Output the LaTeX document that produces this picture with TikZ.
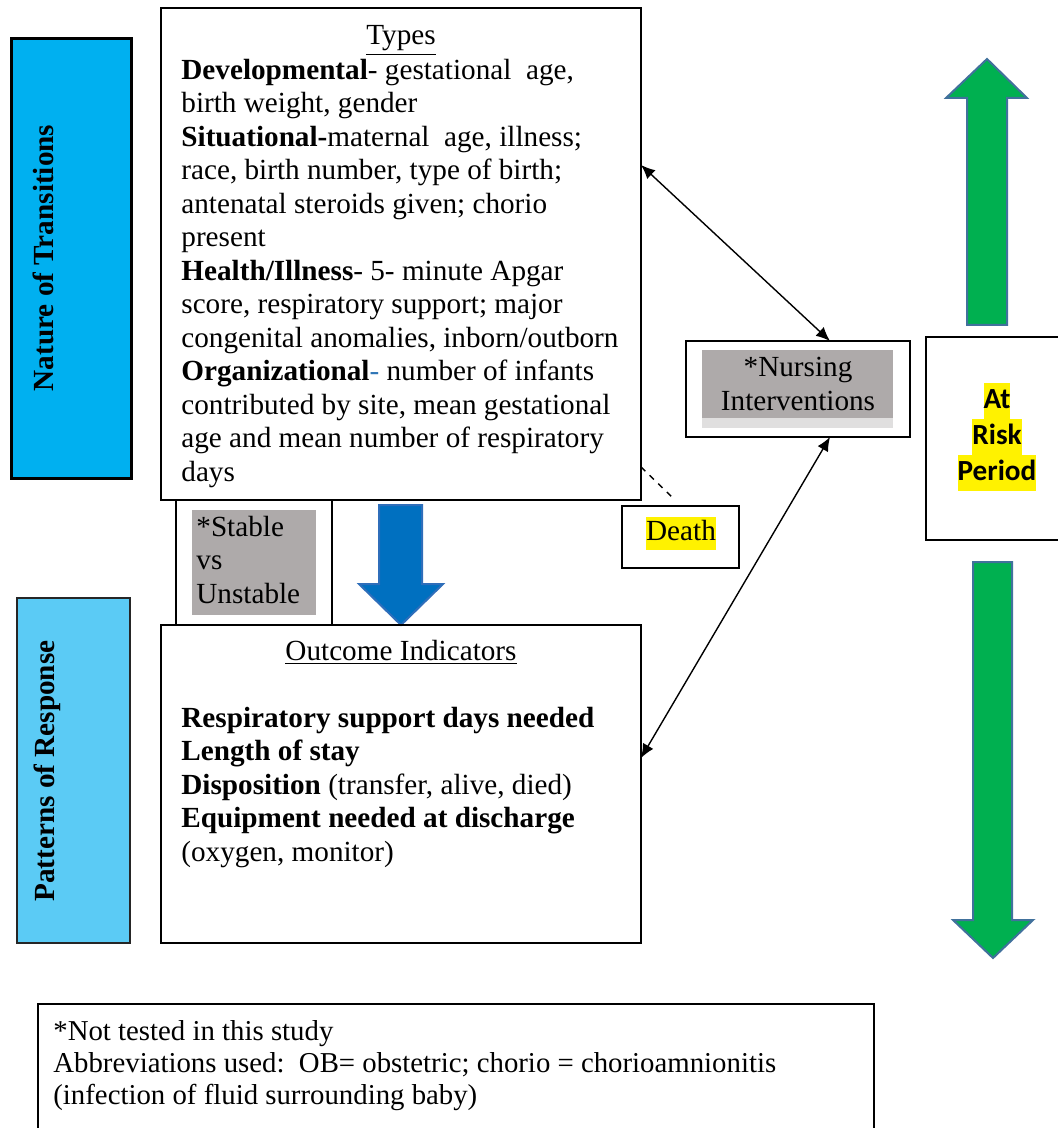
\documentclass[tikz,border=0pt]{standalone}
\usepackage{fontspec}
\setmainfont{Liberation Serif}
\newfontfamily\calibri{Carlito}
\usepackage{xcolor}
\usetikzlibrary{arrows.meta,calc}
\definecolor{natureblue}{HTML}{00B0F0}
\definecolor{patternblue}{HTML}{5BCBF5}
\definecolor{boxgray}{HTML}{AEAAAA}
\definecolor{stripgray}{HTML}{E0DFDF}
\definecolor{downblue}{HTML}{0070C0}
\definecolor{downedge}{HTML}{2F6EBA}
\definecolor{riskgreen}{HTML}{00B050}
\definecolor{greenedge}{HTML}{41719C}
\definecolor{dashblue}{HTML}{2E75B6}
\newcommand{\hlt}[1]{{\setlength{\fboxsep}{0pt}\colorbox{yellow}{\strut #1}}}

\begin{document}
\begin{tikzpicture}[x=0.5pt, y=-0.5pt,
    every node/.style={font=\fontsize{14.6}{16.75}\selectfont},
    box/.style={draw, line width=0.8pt, inner sep=0pt, outer sep=0pt},
    link/.style={line width=0.7pt, {Latex[length=7pt,width=6pt]}-{Latex[length=7pt,width=6pt]}},
    bigarrow/.style={line width=1pt}]
        \useasboundingbox (0,0) rectangle (1057,1128);

        \node[box, line width=1.5pt, fill=natureblue, minimum width=60pt, minimum height=219.5pt] (nature) at (71,258.5) {};
        \node[rotate=90, font=\fontsize{14.6}{16.75}\selectfont\bfseries] (naturetext) at (43,258) {Nature of Transitions};

        \node[box, draw=black!85, fill=patternblue, minimum width=56.5pt, minimum height=172.5pt] (patterns) at (73.5,770.5) {};
        \node[rotate=90, font=\fontsize{14.6}{16.75}\selectfont\bfseries] (patternstext) at (47,771) {Patterns of Response};

        \node[box, minimum width=240pt, minimum height=246pt] (types) at (401,254) {};
        \node[anchor=base] (typestitle) at (401,45) {\underline{Types}};
        \node[anchor=base west, align=left, inner sep=0pt] (typesbody) at (181,481)
            {\textbf{Developmental}- gestational\ \ age,\\
             birth weight, gender\\
             \textbf{Situational-}maternal\ \ age, illness;\\
             race, birth number, type of birth;\\
             antenatal steroids given; chorio\\
             present\\
             \textbf{Health/Illness}- 5- minute Apgar\\
             score, respiratory support; major\\
             congenital anomalies, inborn/outborn\\
             \textbf{Organizational}\textcolor{dashblue}{-} number of infants\\
             contributed by site, mean gestational\\
             age and mean number of respiratory\\
             days};

        \node[box, minimum width=78pt, minimum height=62.5pt] (stable) at (254,562.5) {};
        \fill[boxgray] (192,510) rectangle (316,615);
        \node[anchor=base west, align=left, inner sep=0pt] (stabletext) at (196,603) {*Stable\\vs\\Unstable};

        \draw[bigarrow, draw=downedge, fill=downblue] (379,505) -- (422,505) -- (422,584) -- (443,584) -- (401,625) -- (359,584) -- (379,584) -- cycle;

        \node[box, minimum width=240pt, minimum height=159pt] (outcome) at (401,784) {};
        \node[anchor=base] (outcometitle) at (401,660) {\underline{Outcome Indicators}};
        \node[anchor=base west, align=left, inner sep=0pt] (outcomebody) at (181,861)
            {\textbf{Respiratory support days needed}\\
             \textbf{Length of stay}\\
             \textbf{Disposition} (transfer, alive, died)\\
             \textbf{Equipment needed at discharge}\\
             (oxygen, monitor)};

        \node[box, minimum width=112pt, minimum height=48pt] (nursing) at (798,389) {};
        \fill[boxgray] (702,350) rectangle (893,418);
        \fill[stripgray] (702,418) rectangle (893,428);
        \node[anchor=base, align=center, inner sep=0pt] (nursingtext) at (798,410) {*Nursing\\Interventions};

        \node[box, minimum width=58.5pt, minimum height=31pt] (death) at (680.5,537) {};
        \node[anchor=base, inner sep=0pt] (deathtext) at (681,540) {\hlt{Death}};

        \node[box, minimum width=72pt, minimum height=101.5pt] (risk) at (998,438.5) {};
        \node[anchor=base, align=center, inner sep=0pt, font=\calibri\bfseries\fontsize{14.6}{18}\selectfont] (risktext) at (997,480) {\hlt{At}\\\hlt{Risk}\\\hlt{Period}};

        \draw[bigarrow, draw=greenedge, fill=riskgreen] (967,325) -- (967,98) -- (946,98) -- (987,59) -- (1027,98) -- (1007,98) -- (1007,325) -- cycle;
        \draw[bigarrow, draw=greenedge, fill=riskgreen] (973,562) -- (1012,562) -- (1012,920) -- (1033,920) -- (993,958) -- (953,920) -- (973,920) -- cycle;

        \draw[link] ([yshift=-78.5pt]types.north east) -- ([xshift=16pt]nursing.north);
        \draw[link] ([yshift=-66.5pt]outcome.north east) -- ([xshift=16pt]nursing.south);
        \draw[line width=0.7pt, dashed] ([yshift=-229.5pt]types.north east) -- ([xshift=-2.75pt,yshift=3pt]death.north);

        \node[box, minimum width=418pt, minimum height=68pt] (note) at (456,1072) {};
        \node[anchor=base west, align=left, inner sep=0pt, font=\fontsize{14.4}{16}\selectfont] (notetext) at (53,1104)
            {*Not tested in this study\\
             Abbreviations used:\ \ OB= obstetric; chorio = chorioamnionitis\\
             (infection of fluid surrounding baby)};
    \end{tikzpicture}
\end{document}
